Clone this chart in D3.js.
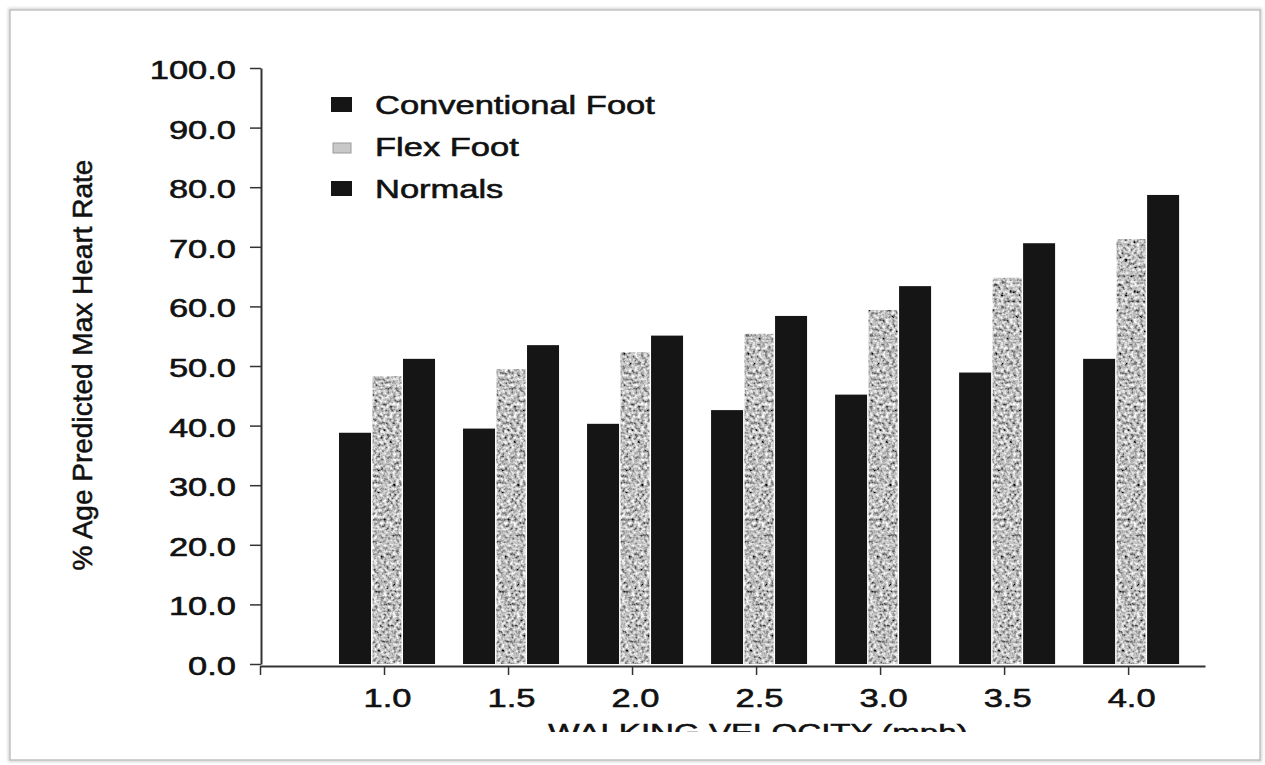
<!DOCTYPE html>
<html>
<head>
<meta charset="utf-8">
<script src="https://cdn.jsdelivr.net/npm/d3@7/dist/d3.min.js"></script>
<style>
  html, body { margin: 0; padding: 0; background: #fff; }
  svg { display: block; }
  text { font-family: 'Liberation Sans', Arial, Helvetica, sans-serif; fill: #111; stroke: #111; stroke-width: 0.55px; }
</style>
</head>
<body>
<svg id="chart" width="1265" height="765"></svg>
<script>
const velocities = [1.0, 1.5, 2.0, 2.5, 3.0, 3.5, 4.0]
const conventionalFoot = [38.8, 39.5, 40.3, 42.6, 45.2, 48.9, 51.2]
const flexFoot = [48.3, 49.5, 52.3, 55.4, 59.4, 64.8, 71.3]
const normals = [51.2, 53.5, 55.1, 58.4, 63.4, 70.6, 78.7]
const seriesNames = ['Conventional Foot', 'Flex Foot', 'Normals']
const yTickValues = [0, 10, 20, 30, 40, 50, 60, 70, 80, 90, 100]
const xTickValues = [0.5, 1.0, 1.5, 2.0, 2.5, 3.0, 3.5, 4.0]

const seriesValues = [conventionalFoot, flexFoot, normals]
const stretch = 1.38 // the scanned figure is wider than it is tall

const svg = d3.select('#chart')
const defs = svg.append('defs')

// stippled grey used for the Flex Foot bars
const stipple = defs.append('filter').attr('id', 'stipple')
  .attr('x', 0).attr('y', 0).attr('width', 1).attr('height', 1)
stipple.append('feTurbulence').attr('type', 'fractalNoise')
  .attr('baseFrequency', 0.32).attr('numOctaves', 2).attr('seed', 7).attr('result', 'noise')
stipple.append('feColorMatrix').attr('in', 'noise').attr('type', 'matrix')
  .attr('values', '1.7 0 0 0 -0.33  1.7 0 0 0 -0.33  1.7 0 0 0 -0.33  0 0 0 0 1')
  .attr('result', 'grey')
stipple.append('feComposite').attr('in', 'grey').attr('in2', 'SourceGraphic').attr('operator', 'in')

const soft = defs.append('filter').attr('id', 'soft')
soft.append('feGaussianBlur').attr('stdDeviation', 1.5)

defs.append('clipPath').attr('id', 'pageClip')
  .append('rect').attr('x', 0).attr('y', 0).attr('width', 1265).attr('height', 732)

// page frame
svg.append('rect').attr('x', 10).attr('y', 10).attr('width', 1250).attr('height', 750)
  .attr('fill', 'none').attr('stroke', '#d4d4d4').attr('stroke-width', 4).attr('filter', 'url(#soft)')
svg.append('rect').attr('x', 10).attr('y', 10).attr('width', 1250).attr('height', 750)
  .attr('fill', '#fff').attr('stroke', '#c2c2c2').attr('stroke-width', 1.5)

const y = d3.scaleLinear().domain([0, 100]).range([664, 68])
const x = d3.scaleLinear().domain([0.5, 4.31]).range([260, 1205])
const xSub = d3.scaleBand().domain(seriesNames).range([-48, 48])

// bars
const groups = svg.append('g').selectAll('g')
  .data(velocities)
  .join('g')
  .attr('transform', (v) => `translate(${x(v) + 3},0)`)

groups.selectAll('rect')
  .data((v, i) => seriesNames.map((name, s) => ({ name, value: seriesValues[s][i] })))
  .join('rect')
  .attr('x', (d) => xSub(d.name) + (d.name === 'Flex Foot' ? 1.5 : 0))
  .attr('width', (d) => xSub.bandwidth() - (d.name === 'Flex Foot' ? 3 : 0))
  .attr('y', (d) => y(d.value))
  .attr('height', (d) => y(0) - y(d.value))
  .attr('fill', (d) => d.name === 'Flex Foot' ? '#888' : '#151515')
  .attr('filter', (d) => d.name === 'Flex Foot' ? 'url(#stipple)' : null)

// y axis
const yAxis = svg.append('g')
  .attr('transform', `translate(${x(0.5) + 1},0)`)
  .call(d3.axisLeft(y).tickValues(yTickValues).tickSize(11).tickSizeOuter(0).tickFormat(d3.format('.1f')))
yAxis.select('.domain').attr('stroke', '#333').attr('stroke-width', 2)
yAxis.selectAll('.tick line').attr('stroke', '#333').attr('stroke-width', 1.5)
yAxis.selectAll('.tick text')
  .attr('x', -25 / stretch)
  .attr('dy', '0.42em')
  .attr('transform', `scale(${stretch},1)`)
  .style('font-size', '25px')

// x axis
const xAxis = svg.append('g')
  .attr('transform', `translate(0,${y(0) + 2})`)
  .call(d3.axisBottom(x).tickValues(xTickValues).tickSize(9).tickSizeOuter(0)
    .tickFormat((d) => d < 1 ? '' : d3.format('.1f')(d)))
xAxis.select('.domain').attr('stroke', '#333').attr('stroke-width', 2)
xAxis.selectAll('.tick line').attr('stroke', '#333').attr('stroke-width', 1.5)
xAxis.selectAll('.tick text')
  .attr('y', 41)
  .attr('dy', 0)
  .attr('transform', `scale(${stretch},1) translate(${3 / stretch},0)`)
  .style('font-size', '25px')

// the axis title is cut off by the bottom of the scan
svg.append('g')
  .attr('clip-path', 'url(#pageClip)')
  .append('text')
  .attr('transform', `translate(758,741) scale(${stretch},1)`)
  .attr('text-anchor', 'middle')
  .style('font-size', '24px')
  .text('WALKING VELOCITY (mph)')

svg.append('text')
  .attr('transform', 'translate(92,365) rotate(-90)')
  .attr('text-anchor', 'middle')
  .style('font-size', '28px')
  .text('% Age Predicted Max Heart Rate')

// legend
const legendRows = [114, 156, 198]
const legend = svg.append('g').selectAll('g')
  .data(seriesNames)
  .join('g')
  .attr('transform', (d, i) => `translate(0,${legendRows[i]})`)

legend.append('rect')
  .attr('x', (d) => d === 'Flex Foot' ? 333 : 331)
  .attr('y', (d) => d === 'Flex Foot' ? -13 : -17)
  .attr('width', (d) => d === 'Flex Foot' ? 18 : 21)
  .attr('height', (d) => d === 'Flex Foot' ? 10 : 15)
  .attr('fill', (d) => d === 'Flex Foot' ? '#c8c8c8' : '#151515')
  .attr('stroke', (d) => d === 'Flex Foot' ? '#9a9a9a' : 'none')

legend.append('text')
  .attr('transform', `translate(375,0) scale(${stretch},1)`)
  .style('font-size', '25px')
  .text((d) => d)
</script>
</body>
</html>
